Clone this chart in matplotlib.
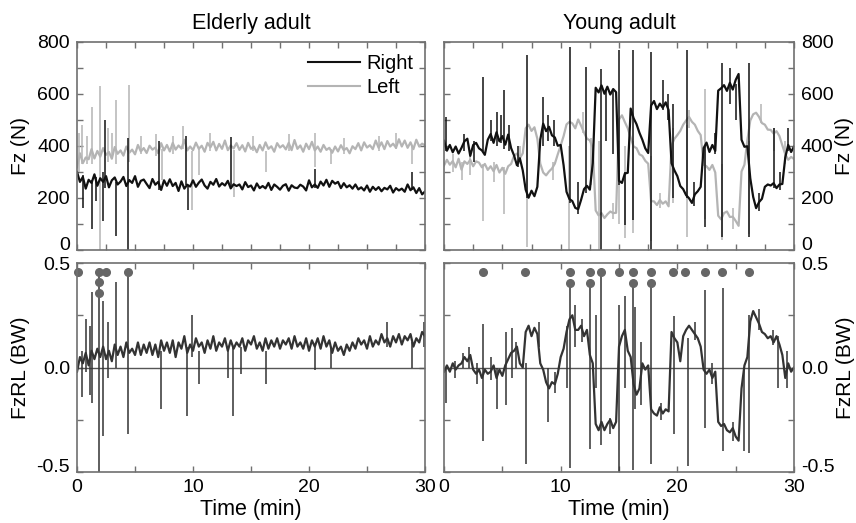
import numpy as np
import matplotlib.pyplot as plt
import matplotlib.transforms as mtransforms

plt.rcParams['font.family'] = ['Liberation Sans', 'DejaVu Sans']

## time axis, one sample every 0.25 min (121 samples)
minutes = np.arange(121) * 0.25

## ---- Elderly adult ----
elderly_right = [
    300, 262, 281, 236, 270, 258, 291, 247,
    276, 262, 284, 241, 268, 279, 252, 263,
    281, 246, 269, 258, 284, 243, 266, 271,
    254, 238, 273, 251, 262, 231, 268, 247,
    272, 246, 258, 227, 264, 236, 251, 244,
    268, 243, 259, 271, 248, 236, 262, 251,
    273, 244, 257, 248, 266, 237, 253, 246,
    252, 233, 261, 242, 248, 229, 256, 238,
    246, 237, 258, 231, 252, 243, 232, 247,
    253, 228, 249, 240, 238, 251, 244, 229,
    268, 241, 252, 239, 263, 248, 270, 243,
    266, 255, 262, 238, 257, 241, 249, 236,
    252, 233, 241, 229, 248, 224, 243, 231,
    242, 226, 239, 233, 247, 221, 238, 229,
    236, 224, 252, 230, 241, 219, 238, 214,
    225]
elderly_left = [
    318, 372, 334, 356, 349, 388, 352, 381,
    359, 392, 366, 377, 351, 396, 370, 383,
    363, 398, 374, 386, 368, 404, 379, 392,
    373, 401, 386, 394, 372, 411, 383, 404,
    379, 412, 386, 402, 390, 424, 383, 398,
    384, 413, 389, 401, 378, 412, 395, 416,
    383, 408, 389, 421, 384, 402, 391, 411,
    385, 403, 379, 412, 389, 398, 376, 404,
    383, 414, 389, 399, 378, 411, 394, 403,
    387, 412, 384, 423, 389, 402, 378, 409,
    388, 416, 383, 398, 378, 404, 385, 393,
    374, 398, 379, 403, 384, 392, 372, 399,
    388, 411, 383, 414, 394, 403, 388, 421,
    393, 414, 388, 419, 398, 409, 393, 426,
    398, 421, 393, 414, 388, 424, 398, 409,
    402]
elderly_fzrl = [
    -0.02, 0.05, 0.02, 0.07, 0.01, 0.08, 0.04, 0.09,
    0.05, 0.10, 0.04, 0.08, 0.03, 0.11, 0.06, 0.10,
    0.05, 0.12, 0.07, 0.09, 0.06, 0.12, 0.06, 0.11,
    0.07, 0.12, 0.06, 0.11, 0.05, 0.13, 0.08, 0.12,
    0.07, 0.13, 0.05, 0.12, 0.09, 0.15, 0.07, 0.11,
    0.08, 0.14, 0.10, 0.12, 0.07, 0.13, 0.09, 0.15,
    0.08, 0.12, 0.10, 0.14, 0.08, 0.13, 0.09, 0.12,
    0.10, 0.14, 0.08, 0.13, 0.11, 0.15, 0.09, 0.12,
    0.08, 0.14, 0.09, 0.13, 0.10, 0.14, 0.09, 0.13,
    0.11, 0.14, 0.09, 0.15, 0.10, 0.12, 0.09, 0.14,
    0.08, 0.13, 0.10, 0.14, 0.09, 0.15, 0.10, 0.13,
    0.07, 0.12, 0.08, 0.10, 0.06, 0.11, 0.08, 0.12,
    0.09, 0.14, 0.11, 0.13, 0.09, 0.15, 0.10, 0.13,
    0.11, 0.16, 0.12, 0.14, 0.10, 0.15, 0.12, 0.16,
    0.11, 0.15, 0.13, 0.16, 0.10, 0.14, 0.12, 0.17,
    0.15]

## spikes: (time, low, high)
elderly_right_spikes = [
    (0.5, 160, 290), (1.3, 80, 270), (1.6, 190, 280), (2.24, 110, 300),
    (2.4, 240, 500), (3.36, 55, 260), (4.4, 0, 430), (7.1, 230, 420),
    (9.4, 250, 440), (9.6, 155, 250), (13.3, 240, 435), (20.5, 240, 310),
    (28.9, 230, 300)]
elderly_left_spikes = [
    (0.2, 300, 450), (0.45, 330, 480), (0.9, 330, 440), (1.29, 330, 550),
    (1.95, 0, 630), (2.7, 340, 470), (3.0, 350, 450), (3.36, 330, 575),
    (4.45, 340, 635), (5.5, 370, 440), (6.8, 360, 445), (7.3, 270, 390),
    (8.3, 370, 440), (9.1, 390, 475), (9.9, 155, 380), (10.5, 290, 390),
    (11.5, 380, 450), (13.5, 205, 385), (15.2, 380, 440), (16.3, 300, 380),
    (18.3, 380, 445), (20.5, 320, 450), (21.9, 330, 390), (23.0, 370, 430),
    (26.0, 380, 440), (27.5, 390, 450), (28.9, 330, 400)]
elderly_fzrl_spikes = [
    (0.45, -0.14, 0.08), (0.75, -0.02, 0.23), (1.1, -0.13, 0.20),
    (1.3, -0.17, 0.36), (1.92, -0.5, 0.46), (2.2, -0.33, 0.32),
    (2.7, -0.05, 0.22), (3.36, 0.0, 0.41), (4.42, -0.32, 0.46),
    (7.24, -0.2, 0.08), (9.45, -0.23, 0.10), (9.9, 0.05, 0.25),
    (10.5, -0.08, 0.08), (13.0, -0.05, 0.08), (13.45, -0.23, 0.10),
    (14.1, -0.03, 0.10), (16.3, -0.08, 0.08), (20.5, -0.01, 0.10),
    (21.9, 0.0, 0.10), (26.7, 0.10, 0.22), (28.9, 0.0, 0.12),
    (29.95, 0.10, 0.22)]
elderly_dot_t = [0.1, 1.92, 1.92, 1.92, 2.5, 4.42]
elderly_dot_v = [0.458, 0.458, 0.408, 0.358, 0.458, 0.458]

## ---- Young adult ----
young_right = [
    420, 382, 404, 376, 398, 371, 393, 418,
    428, 362, 404, 412, 391, 383, 366, 424,
    446, 412, 453, 418, 438, 405, 444, 392,
    364, 326, 353, 306, 232, 201, 228, 207,
    243, 424, 486, 457, 474, 441, 433, 401,
    404, 326, 224, 196, 188, 162, 157, 193,
    234, 247, 232, 334, 624, 606, 633, 601,
    628, 598, 619, 607, 266, 258, 294, 297,
    544, 507, 484, 451, 424, 391, 373, 556,
    573, 542, 563, 547, 568, 538, 334, 306,
    284, 246, 234, 211, 199, 181, 214, 226,
    243, 392, 413, 377, 404, 381, 613, 622,
    634, 612, 643, 617, 654, 677, 424, 397,
    399, 276, 204, 161, 184, 197, 243, 252,
    248, 257, 238, 252, 254, 356, 404, 377,
    398]
young_left = [
    325, 347, 328, 342, 318, 351, 309, 341,
    331, 347, 322, 341, 336, 318, 331, 308,
    322, 303, 327, 298, 316, 293, 322, 331,
    362, 371, 353, 372, 468, 482, 458, 472,
    428, 332, 298, 287, 302, 313, 332, 368,
    402, 438, 483, 493, 487, 468, 502, 478,
    452, 428, 422, 393, 152, 133, 142, 123,
    137, 148, 142, 143, 502, 518, 492, 468,
    432, 398, 392, 368, 362, 343, 332, 188,
    187, 173, 192, 178, 187, 168, 402, 428,
    442, 458, 482, 498, 512, 493, 482, 458,
    442, 328, 322, 308, 327, 298, 132, 118,
    142, 148, 127, 128, 112, 93, 302, 328,
    422, 498, 522, 528, 512, 488, 482, 463,
    462, 448, 457, 438, 402, 368, 347, 358,
    350]
young_fzrl = [
    -0.02, 0.01, -0.02, 0.02, -0.01, 0.01, 0.02, 0.05,
    0.03, 0.06, -0.01, -0.03, -0.01, -0.05, -0.01, -0.03,
    -0.02, 0.01, -0.05, -0.01, -0.04, 0.01, 0.04, 0.07,
    0.08, 0.10, 0.02, 0.00, 0.17, 0.20, 0.15, 0.19,
    0.16, 0.02, -0.01, -0.07, -0.10, -0.07, -0.08, -0.03,
    0.05, 0.09, 0.17, 0.23, 0.25, 0.18, 0.18, 0.20,
    0.15, 0.18, 0.06, 0.02, -0.27, -0.30, -0.26, -0.30,
    -0.27, -0.25, -0.29, -0.26, 0.10, 0.15, 0.18, 0.08,
    0.05, -0.08, -0.13, -0.10, 0.02, -0.01, 0.01, -0.20,
    -0.22, -0.23, -0.19, -0.22, -0.20, -0.21, 0.17, 0.14,
    0.12, 0.03, 0.15, 0.18, 0.20, 0.18, 0.16, 0.14,
    0.10, -0.01, -0.03, -0.01, -0.05, -0.02, -0.26, -0.28,
    -0.27, -0.30, -0.31, -0.29, -0.33, -0.35, -0.10, 0.01,
    0.05, 0.22, 0.27, 0.24, 0.21, 0.17, 0.16, 0.14,
    0.15, 0.12, 0.15, 0.11, 0.06, -0.05, 0.02, -0.02,
    0.00]

young_right_spikes = [
    (0.17, 380, 510), (1.75, 380, 445), (2.6, 340, 420), (3.37, 380, 665),
    (4.0, 420, 500), (4.5, 400, 530), (4.9, 410, 520), (5.14, 390, 615),
    (5.6, 380, 480), (6.3, 320, 400), (7.09, 200, 750), (8.5, 400, 590),
    (8.9, 420, 520), (9.4, 400, 500), (10.8, 180, 780), (11.5, 140, 260),
    (12.2, 220, 705), (13.43, 0, 695), (13.9, 420, 620), (14.5, 370, 610),
    (15.03, 250, 770), (15.5, 95, 300), (16.17, 115, 770), (17.77, 0, 760),
    (18.8, 540, 655), (19.2, 500, 600), (19.66, 200, 560), (20.8, 200, 770),
    (21.4, 170, 260), (22.4, 90, 400), (23.2, 370, 450), (23.86, 50, 720),
    (24.5, 560, 700), (25.0, 500, 640), (26.17, 50, 720), (27.0, 150, 220),
    (28.3, 240, 470), (28.8, 230, 300), (29.5, 380, 470)]
young_left_spikes = [
    (0.8, 300, 370), (1.5, 270, 340), (2.2, 290, 360), (3.37, 110, 330),
    (4.3, 260, 340), (5.14, 140, 320), (6.5, 330, 400), (7.09, 10, 470),
    (9.3, 270, 340), (10.74, 0, 400), (11.9, 450, 530), (12.6, 250, 430),
    (13.3, 0, 420), (14.5, 120, 180), (15.03, 100, 500), (15.55, 45, 400),
    (16.17, 65, 420), (17.77, 35, 360), (18.5, 160, 220), (19.66, 180, 470),
    (20.8, 50, 480), (21.0, 470, 540), (22.4, 120, 620), (23.86, 40, 330),
    (24.8, 80, 160), (26.17, 60, 420), (27.2, 490, 560), (28.3, 380, 470),
    (29.2, 330, 420)]
young_fzrl_spikes = [
    (0.17, -0.17, 0.0), (0.9, -0.05, 0.03), (1.66, 0.0, 0.07),
    (2.17, 0.0, 0.10), (2.8, -0.08, 0.02), (3.31, -0.35, 0.21),
    (4.0, -0.06, 0.05), (4.51, -0.20, 0.0), (5.3, -0.18, 0.17),
    (5.8, -0.05, 0.19), (6.2, 0.0, 0.12), (7.06, -0.46, 0.02),
    (8.1, 0.10, 0.22), (8.9, -0.26, 0.0), (9.5, -0.12, -0.02),
    (10.5, -0.10, 0.20), (10.77, -0.48, 0.40), (11.2, 0.10, 0.30),
    (11.8, 0.12, 0.23), (12.51, -0.39, 0.40), (13.0, -0.10, 0.25),
    (13.48, -0.37, 0.46), (14.2, -0.32, -0.24), (14.97, -0.50, 0.30),
    (15.5, -0.10, 0.34), (16.17, -0.49, 0.40), (16.4, -0.20, 0.29),
    (16.9, -0.18, 0.12), (17.77, -0.46, 0.40), (18.6, -0.25, -0.17),
    (19.7, -0.32, 0.245), (20.9, -0.47, 0.14), (21.5, 0.13, 0.22),
    (22.34, -0.29, 0.37), (23.0, -0.08, 0.02), (23.9, -0.40, 0.38),
    (24.8, -0.35, -0.26), (25.7, -0.40, 0.0), (26.1, -0.41, 0.25),
    (27.0, 0.18, 0.28), (28.2, 0.11, 0.18), (28.6, -0.10, 0.15),
    (29.4, -0.10, 0.08)]
young_dot_t = [3.31, 6.94, 10.8, 12.51, 13.49, 14.97, 16.17, 17.77, 19.66,
               20.69, 22.34, 23.86, 26.14, 10.8, 12.51, 16.17, 17.77]
young_dot_v = [0.458] * 13 + [0.405] * 4

RIGHT_C = '#111111'
LEFT_C = '#b4b4b4'
FZRL_C = '#333333'
FRAME_C = '#707070'


def spikes(ax, data, color):
    t, lo, hi = zip(*data)
    ax.vlines(t, lo, hi, colors=color, lw=1.1)


def style(ax, side, top):
    for s in ax.spines.values():
        s.set_color(FRAME_C)
        s.set_linewidth(1.2)
    ax.set_xlim(0, 30)
    pad = 5 if side == 'left' else 1
    if top:
        ax.set_ylim(0, 800)
        ax.set_xticks(np.arange(0, 30.1, 2.5))
        ax.set_yticks([0, 200, 400, 600, 800])
        ax.set_yticks([100, 300, 500, 700], minor=True)
        ax.set_ylabel('Fz (N)', fontsize=15, labelpad=pad)
    else:
        ax.set_ylim(-0.5, 0.5)
        ax.set_xticks([0, 10, 20, 30])
        ax.set_xticks([5, 15, 25], minor=True)
        ax.set_yticks([-0.5, 0.0, 0.5])
        ax.set_yticklabels(['-0.5', '0.0', '0.5'])
        ax.set_yticks([-0.25, 0.25], minor=True)
        ax.set_ylabel('FzRL (BW)', fontsize=15, labelpad=pad)
        ax.set_xlabel('Time (min)', fontsize=15.5, labelpad=2)
    ax.tick_params(which='both', direction='in', length=4, width=1,
                   color=FRAME_C, labelsize=14, pad=5,
                   top=True, bottom=True, left=True, right=True,
                   labelbottom=not top,
                   labelleft=(side == 'left'), labelright=(side == 'right'))
    if side == 'right':
        ax.yaxis.set_label_position('right')
    ## lowest y label sits a little above its tick, as in the original
    shift = mtransforms.ScaledTranslation(0, 5 / 72, ax.figure.dpi_scale_trans)
    ticks = ax.yaxis.get_major_ticks()
    for lab in (ticks[0].label1, ticks[0].label2):
        lab.set_transform(lab.get_transform() + shift)


fig = plt.figure(figsize=(8.56, 5.23), dpi=100)
ax1 = fig.add_axes([0.090, 0.522, 0.4065, 0.3977])
ax2 = fig.add_axes([0.5187, 0.522, 0.4089, 0.3977])
ax3 = fig.add_axes([0.090, 0.0975, 0.4065, 0.3996])
ax4 = fig.add_axes([0.5187, 0.0975, 0.4089, 0.3996])

## Fz panels: left foot (grey) under right foot (black)
for ax, r, l, rs, ls in [(ax1, elderly_right, elderly_left, elderly_right_spikes, elderly_left_spikes),
                         (ax2, young_right, young_left, young_right_spikes, young_left_spikes)]:
    spikes(ax, ls, LEFT_C)
    ax.plot(minutes, l, color=LEFT_C, lw=1.6, label='Left')
    spikes(ax, rs, RIGHT_C)
    ax.plot(minutes, r, color=RIGHT_C, lw=1.6, label='Right')

## FzRL panels
for ax, f, fs, dt, dv in [(ax3, elderly_fzrl, elderly_fzrl_spikes, elderly_dot_t, elderly_dot_v),
                          (ax4, young_fzrl, young_fzrl_spikes, young_dot_t, young_dot_v)]:
    ax.axhline(0, color='#555555', lw=1.0)
    spikes(ax, fs, FZRL_C)
    ax.plot(minutes, f, color=FZRL_C, lw=1.6)
    ax.plot(dt, dv, 'o', color='#666666', ms=5.5, clip_on=False)

style(ax1, 'left', True)
style(ax2, 'right', True)
style(ax3, 'left', False)
style(ax4, 'right', False)

ax1.set_title('Elderly adult', fontsize=15.5, pad=9)
ax2.set_title('Young adult', fontsize=15.5, pad=9)

h, lab = ax1.get_legend_handles_labels()
leg = ax1.legend(h[::-1], lab[::-1], loc='upper right', frameon=False, fontsize=14.5,
                 handlelength=2.6, handletextpad=0.3, labelspacing=0.25,
                 borderaxespad=0.2, bbox_to_anchor=(1.0, 1.0))
for line in leg.get_lines():
    line.set_linewidth(1.5)

fig.savefig('out.png', dpi=100)
